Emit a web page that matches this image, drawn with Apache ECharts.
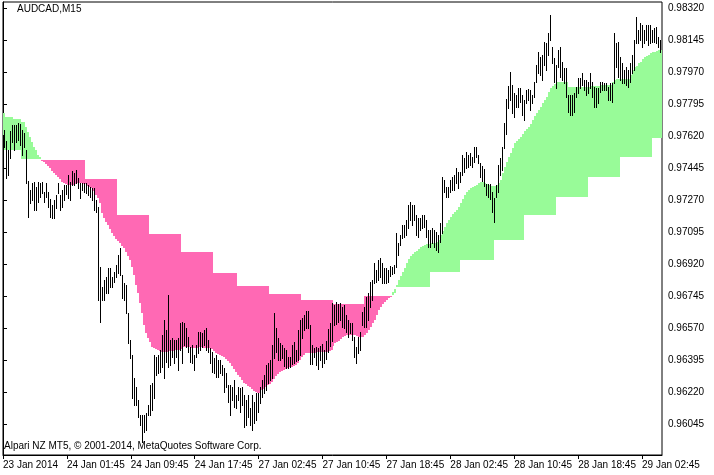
<!DOCTYPE html>
<html><head><meta charset="utf-8">
<script src="https://cdn.jsdelivr.net/npm/echarts@6/dist/echarts.min.js"></script>
<style>html,body{margin:0;padding:0;background:#fff}#c{width:714px;height:475px}</style>
</head><body><div id="c"></div>
<script>
const symbolTitle = 'AUDCAD,M15';
const copyright = 'Alpari NZ MT5, \u00a9 2001-2014, MetaQuotes Software Corp.';
const timeLabels = ['23 Jan 2014','24 Jan 01:45','24 Jan 09:45','24 Jan 17:45','27 Jan 02:45','27 Jan 10:45','27 Jan 18:45','28 Jan 02:45','28 Jan 10:45','28 Jan 18:45','29 Jan 02:45'];
const timeLabelBars = [0,32,64,96,128,160,192,224,256,288,320];
const priceTicks = [0.96045,0.96220,0.96395,0.96570,0.96745,0.96920,0.97095,0.97270,0.97445,0.97620,0.97795,0.97970,0.98145,0.98320];

const high = [
0.97627,0.97655,0.97594,0.97545,0.97649,0.97682,0.97682,0.97682,0.97693,0.97687,
0.97655,0.97638,0.97545,0.97375,0.97326,0.97365,0.97370,0.97343,0.97370,0.97365,
0.97370,0.97315,0.97365,0.97315,0.97277,0.97244,0.97272,0.97299,0.97365,0.97299,
0.97326,0.97354,0.97354,0.97408,0.97370,0.97430,0.97419,0.97436,0.97392,0.97365,
0.97365,0.97365,0.97365,0.97354,0.97343,0.97337,0.97337,0.97272,0.97233,0.96905,
0.96796,0.96834,0.96851,0.96900,0.96900,0.96851,0.96878,0.96916,0.96971,0.97009,
0.96862,0.96818,0.96807,0.96654,0.96506,0.96424,0.96298,0.96249,0.96178,0.96096,
0.96096,0.96096,0.96107,0.96151,0.96260,0.96271,0.96424,0.96413,0.96424,0.96451,
0.96533,0.96615,0.96561,0.96752,0.96506,0.96517,0.96506,0.96506,0.96517,0.96599,
0.96605,0.96599,0.96572,0.96523,0.96468,0.96479,0.96424,0.96479,0.96550,0.96550,
0.96544,0.96561,0.96572,0.96506,0.96462,0.96440,0.96408,0.96424,0.96397,0.96397,
0.96369,0.96353,0.96326,0.96260,0.96260,0.96249,0.96287,0.96205,0.96249,0.96244,
0.96249,0.96205,0.96178,0.96205,0.96134,0.96205,0.96167,0.96216,0.96216,0.96249,
0.96287,0.96315,0.96369,0.96380,0.96397,0.96479,0.96654,0.96572,0.96517,0.96490,
0.96479,0.96462,0.96451,0.96413,0.96413,0.96479,0.96495,0.96451,0.96561,0.96615,
0.96626,0.96643,0.96665,0.96665,0.96588,0.96479,0.96462,0.96468,0.96462,0.96473,
0.96484,0.96451,0.96501,0.96566,0.96599,0.96708,0.96698,0.96714,0.96703,0.96708,
0.96687,0.96698,0.96643,0.96615,0.96599,0.96599,0.96523,0.96468,0.96523,0.96550,
0.96659,0.96687,0.96741,0.96763,0.96823,0.96834,0.96927,0.96889,0.96944,0.96955,
0.96927,0.96900,0.96900,0.96889,0.96911,0.96905,0.96916,0.97091,0.97037,0.97080,
0.97135,0.97135,0.97162,0.97244,0.97261,0.97244,0.97244,0.97190,0.97173,0.97173,
0.97190,0.97190,0.97162,0.97108,0.97108,0.97119,0.97108,0.97097,0.97080,0.97146,
0.97397,0.97381,0.97343,0.97343,0.97381,0.97397,0.97408,0.97447,0.97425,0.97425,
0.97518,0.97501,0.97534,0.97518,0.97529,0.97507,0.97562,0.97562,0.97518,0.97474,
0.97458,0.97441,0.97359,0.97359,0.97359,0.97315,0.97283,0.97354,0.97463,0.97501,
0.97562,0.97693,0.97824,0.97895,0.97972,0.97901,0.97857,0.97846,0.97884,0.97884,
0.97846,0.97819,0.97873,0.97879,0.97873,0.97846,0.97917,0.98010,0.98081,0.98054,
0.98065,0.98136,0.98130,0.98185,0.98283,0.98108,0.98048,0.98010,0.98092,0.98108,
0.98026,0.97994,0.97994,0.97846,0.97846,0.97846,0.97857,0.97890,0.97939,0.97939,
0.97966,0.97928,0.97928,0.97917,0.97966,0.97917,0.97890,0.97884,0.97884,0.97917,
0.97917,0.97912,0.97912,0.97890,0.97912,0.97912,0.98185,0.98130,0.98136,0.98054,
0.98021,0.97983,0.97999,0.97983,0.98021,0.98065,0.98147,0.98272,0.98201,0.98240,
0.98229,0.98201,0.98229,0.98229,0.98229,0.98201,0.98212,0.98218,0.98163,0.98147
];
const low = [
0.97545,0.97562,0.97392,0.97408,0.97501,0.97589,0.97545,0.97589,0.97600,0.97573,
0.97518,0.97562,0.97365,0.97179,0.97255,0.97272,0.97217,0.97217,0.97261,0.97288,
0.97310,0.97261,0.97288,0.97233,0.97179,0.97173,0.97173,0.97228,0.97310,0.97217,
0.97233,0.97272,0.97305,0.97283,0.97272,0.97354,0.97354,0.97365,0.97337,0.97283,
0.97326,0.97315,0.97310,0.97299,0.97288,0.97272,0.97217,0.97206,0.96725,0.96605,
0.96725,0.96725,0.96763,0.96763,0.96796,0.96796,0.96823,0.96851,0.96873,0.96862,
0.96736,0.96725,0.96654,0.96490,0.96408,0.96189,0.96151,0.96151,0.96085,0.96041,
0.95948,0.96003,0.96014,0.96096,0.96096,0.96123,0.96189,0.96315,0.96326,0.96331,
0.96358,0.96298,0.96386,0.96358,0.96369,0.96413,0.96380,0.96413,0.96342,0.96451,
0.96380,0.96479,0.96468,0.96440,0.96386,0.96380,0.96342,0.96413,0.96435,0.96451,
0.96468,0.96479,0.96451,0.96440,0.96380,0.96331,0.96326,0.96304,0.96304,0.96326,
0.96315,0.96222,0.96249,0.96167,0.96096,0.96178,0.96140,0.96134,0.96178,0.96112,
0.96151,0.96030,0.96041,0.96085,0.96041,0.96014,0.96052,0.96069,0.96112,0.96162,
0.96194,0.96216,0.96233,0.96271,0.96287,0.96298,0.96408,0.96440,0.96397,0.96397,
0.96408,0.96364,0.96353,0.96353,0.96358,0.96375,0.96380,0.96391,0.96397,0.96424,
0.96517,0.96561,0.96572,0.96572,0.96375,0.96375,0.96413,0.96369,0.96348,0.96397,
0.96358,0.96380,0.96402,0.96440,0.96473,0.96501,0.96588,0.96594,0.96605,0.96615,
0.96577,0.96572,0.96550,0.96523,0.96544,0.96506,0.96413,0.96380,0.96435,0.96451,
0.96588,0.96577,0.96577,0.96615,0.96687,0.96725,0.96818,0.96823,0.96834,0.96851,
0.96818,0.96818,0.96818,0.96823,0.96856,0.96867,0.96873,0.96905,0.96971,0.97026,
0.97064,0.97069,0.97080,0.97119,0.97162,0.97135,0.97162,0.97080,0.97069,0.97108,
0.97119,0.97124,0.97069,0.97015,0.97015,0.97037,0.97015,0.96998,0.96987,0.97042,
0.97091,0.97315,0.97288,0.97288,0.97315,0.97326,0.97326,0.97365,0.97337,0.97370,
0.97408,0.97425,0.97447,0.97452,0.97463,0.97452,0.97480,0.97507,0.97474,0.97397,
0.97375,0.97348,0.97299,0.97288,0.97277,0.97206,0.97151,0.97288,0.97315,0.97408,
0.97436,0.97556,0.97633,0.97775,0.97819,0.97748,0.97726,0.97780,0.97780,0.97808,
0.97737,0.97709,0.97802,0.97819,0.97764,0.97802,0.97835,0.97917,0.97966,0.97955,
0.97928,0.98010,0.97983,0.98065,0.98147,0.98021,0.97917,0.97884,0.97999,0.97944,
0.97928,0.97912,0.97835,0.97753,0.97737,0.97737,0.97753,0.97835,0.97857,0.97884,
0.97901,0.97873,0.97846,0.97857,0.97884,0.97835,0.97780,0.97780,0.97802,0.97862,
0.97873,0.97873,0.97873,0.97819,0.97819,0.97808,0.97912,0.97999,0.97944,0.97928,
0.97912,0.97912,0.97901,0.97890,0.97917,0.97966,0.97983,0.98130,0.98130,0.98147,
0.98108,0.98130,0.98147,0.98119,0.98130,0.98136,0.98136,0.98130,0.98108,0.98081
];
const stepLine = [
0.97545,0.97545,0.97545,0.97545,0.97545,0.97545,0.97545,0.97545,0.97545,0.97496,
0.97496,0.97496,0.97496,0.97496,0.97496,0.97496,0.97496,0.97496,0.97496,0.97490,
0.97490,0.97490,0.97490,0.97490,0.97490,0.97490,0.97490,0.97490,0.97490,0.97490,
0.97490,0.97490,0.97490,0.97490,0.97490,0.97490,0.97490,0.97490,0.97490,0.97490,
0.97490,0.97386,0.97386,0.97386,0.97386,0.97386,0.97386,0.97386,0.97386,0.97386,
0.97386,0.97386,0.97386,0.97386,0.97386,0.97386,0.97386,0.97190,0.97190,0.97190,
0.97190,0.97190,0.97190,0.97190,0.97190,0.97190,0.97190,0.97190,0.97190,0.97190,
0.97190,0.97190,0.97190,0.97086,0.97086,0.97086,0.97086,0.97086,0.97086,0.97086,
0.97086,0.97086,0.97086,0.97086,0.97086,0.97086,0.97086,0.97086,0.97086,0.96987,
0.96987,0.96987,0.96987,0.96987,0.96987,0.96987,0.96987,0.96987,0.96987,0.96987,
0.96987,0.96987,0.96987,0.96987,0.96987,0.96873,0.96873,0.96873,0.96873,0.96873,
0.96873,0.96873,0.96873,0.96873,0.96873,0.96873,0.96873,0.96801,0.96801,0.96801,
0.96801,0.96801,0.96801,0.96801,0.96801,0.96801,0.96801,0.96801,0.96801,0.96801,
0.96801,0.96801,0.96801,0.96758,0.96758,0.96758,0.96758,0.96758,0.96758,0.96758,
0.96758,0.96758,0.96758,0.96758,0.96758,0.96758,0.96758,0.96758,0.96758,0.96725,
0.96725,0.96725,0.96725,0.96725,0.96725,0.96725,0.96725,0.96725,0.96725,0.96725,
0.96725,0.96725,0.96725,0.96725,0.96725,0.96703,0.96703,0.96703,0.96703,0.96703,
0.96703,0.96703,0.96703,0.96703,0.96703,0.96703,0.96703,0.96703,0.96703,0.96703,
0.96703,0.96747,0.96747,0.96747,0.96747,0.96747,0.96747,0.96747,0.96747,0.96747,
0.96747,0.96747,0.96747,0.96747,0.96747,0.96752,0.96763,0.96796,0.96796,0.96796,
0.96796,0.96796,0.96796,0.96796,0.96796,0.96796,0.96796,0.96796,0.96796,0.96796,
0.96796,0.96796,0.96796,0.96796,0.96878,0.96878,0.96878,0.96878,0.96878,0.96878,
0.96878,0.96878,0.96878,0.96878,0.96878,0.96878,0.96878,0.96878,0.96878,0.96944,
0.96944,0.96944,0.96944,0.96944,0.96944,0.96944,0.96944,0.96944,0.96944,0.96944,
0.96944,0.96944,0.96944,0.96944,0.96944,0.96944,0.97053,0.97053,0.97053,0.97053,
0.97053,0.97053,0.97053,0.97053,0.97053,0.97053,0.97053,0.97053,0.97053,0.97053,
0.97053,0.97190,0.97190,0.97190,0.97190,0.97190,0.97190,0.97190,0.97190,0.97190,
0.97190,0.97190,0.97190,0.97190,0.97190,0.97190,0.97190,0.97288,0.97288,0.97288,
0.97288,0.97288,0.97288,0.97288,0.97288,0.97288,0.97288,0.97288,0.97288,0.97288,
0.97288,0.97288,0.97288,0.97397,0.97397,0.97397,0.97397,0.97397,0.97397,0.97397,
0.97397,0.97397,0.97397,0.97397,0.97397,0.97397,0.97397,0.97397,0.97397,0.97507,
0.97507,0.97507,0.97507,0.97507,0.97507,0.97507,0.97507,0.97507,0.97507,0.97507,
0.97507,0.97507,0.97507,0.97507,0.97507,0.97611,0.97611,0.97611,0.97611,0.97611
];
const smoothLine = [
0.97748,0.97726,0.97726,0.97726,0.97726,0.97715,0.97715,0.97715,0.97715,0.97698,
0.97698,0.97671,0.97644,0.97616,0.97589,0.97562,0.97545,0.97518,0.97507,0.97485,
0.97480,0.97469,0.97458,0.97447,0.97430,0.97419,0.97408,0.97397,0.97386,0.97370,
0.97365,0.97359,0.97354,0.97354,0.97354,0.97354,0.97359,0.97365,0.97365,0.97365,
0.97359,0.97359,0.97348,0.97343,0.97337,0.97321,0.97299,0.97283,0.97255,0.97201,
0.97173,0.97151,0.97135,0.97113,0.97091,0.97075,0.97058,0.97048,0.97037,0.97020,
0.97009,0.96987,0.96965,0.96944,0.96905,0.96862,0.96807,0.96763,0.96708,0.96654,
0.96588,0.96544,0.96517,0.96495,0.96468,0.96462,0.96457,0.96451,0.96446,0.96440,
0.96440,0.96440,0.96440,0.96446,0.96446,0.96446,0.96451,0.96451,0.96451,0.96457,
0.96468,0.96468,0.96468,0.96468,0.96462,0.96462,0.96462,0.96462,0.96468,0.96468,
0.96462,0.96462,0.96462,0.96462,0.96457,0.96446,0.96435,0.96430,0.96424,0.96419,
0.96413,0.96402,0.96391,0.96380,0.96364,0.96348,0.96331,0.96315,0.96304,0.96287,
0.96271,0.96265,0.96255,0.96249,0.96238,0.96227,0.96222,0.96216,0.96216,0.96233,
0.96238,0.96249,0.96260,0.96265,0.96276,0.96293,0.96309,0.96320,0.96331,0.96337,
0.96342,0.96348,0.96353,0.96358,0.96358,0.96364,0.96369,0.96380,0.96397,0.96413,
0.96424,0.96435,0.96435,0.96435,0.96435,0.96435,0.96435,0.96440,0.96440,0.96440,
0.96440,0.96440,0.96440,0.96446,0.96451,0.96473,0.96490,0.96495,0.96501,0.96512,
0.96523,0.96528,0.96533,0.96533,0.96533,0.96533,0.96533,0.96528,0.96523,0.96523,
0.96523,0.96533,0.96544,0.96561,0.96577,0.96599,0.96615,0.96643,0.96670,0.96687,
0.96703,0.96714,0.96725,0.96736,0.96741,0.96769,0.96785,0.96807,0.96834,0.96856,
0.96878,0.96900,0.96927,0.96949,0.96965,0.96976,0.96987,0.96993,0.97004,0.97015,
0.97020,0.97026,0.97031,0.97031,0.97037,0.97037,0.97037,0.97042,0.97053,0.97080,
0.97102,0.97124,0.97146,0.97162,0.97179,0.97195,0.97206,0.97217,0.97233,0.97255,
0.97277,0.97299,0.97315,0.97326,0.97337,0.97343,0.97348,0.97354,0.97365,0.97370,
0.97370,0.97365,0.97359,0.97354,0.97348,0.97348,0.97348,0.97354,0.97365,0.97381,
0.97419,0.97452,0.97480,0.97507,0.97529,0.97556,0.97583,0.97594,0.97605,0.97616,
0.97633,0.97649,0.97660,0.97671,0.97687,0.97709,0.97731,0.97748,0.97764,0.97780,
0.97802,0.97819,0.97835,0.97862,0.97884,0.97895,0.97906,0.97917,0.97917,0.97917,
0.97917,0.97917,0.97917,0.97890,0.97890,0.97890,0.97890,0.97890,0.97890,0.97890,
0.97890,0.97890,0.97890,0.97890,0.97895,0.97895,0.97895,0.97895,0.97895,0.97901,
0.97901,0.97901,0.97901,0.97901,0.97901,0.97917,0.97928,0.97933,0.97933,0.97933,
0.97933,0.97933,0.97933,0.97933,0.97955,0.97983,0.97999,0.98005,0.98021,0.98026,
0.98043,0.98054,0.98059,0.98065,0.98076,0.98081,0.98081,0.98087,0.98092,0.98092
];

const PINK = '#FF69B4';
const GREEN = '#98FB98';
const FONT = '"Liberation Sans", Arial, sans-serif';

const chart = echarts.init(document.getElementById('c'), null, {renderer: 'canvas'});
const barData = high.map((h, i) => [i, h, low[i]]);
const cloudData = stepLine.map((a, i) => [i, a, smoothLine[i]]);

chart.setOption({
  animation: false,
  backgroundColor: '#fff',
  title: {
    text: symbolTitle, left: 17, top: 4, padding: 0,
    textStyle: {fontSize: 10, fontWeight: 'normal', color: '#000', fontFamily: FONT}
  },
  graphic: [{
    type: 'text', left: 4, top: 441, silent: true,
    style: {text: copyright, fill: '#000', font: '10px ' + FONT}
  }],
  grid: {left: 2, top: 2, width: 660, height: 453, show: true, borderColor: '#000', borderWidth: 1, backgroundColor: '#fff'},
  xAxis: {
    type: 'value', min: 0, max: 330,
    axisLine: {show: true, lineStyle: {color: '#000', width: 1}},
    axisTick: {show: true, customValues: timeLabelBars, length: 4, lineStyle: {color: '#000'}},
    axisLabel: {
      customValues: timeLabelBars, align: 'left', margin: 5, color: '#000', fontSize: 10, fontFamily: FONT,
      formatter: v => timeLabels[timeLabelBars.indexOf(v)] || ''
    },
    splitLine: {show: false}
  },
  yAxis: {
    type: 'value', position: 'right', min: 0.95877, max: 0.98354,
    axisLine: {show: true, lineStyle: {color: '#000', width: 1}},
    axisTick: {show: true, customValues: priceTicks, length: 4, lineStyle: {color: '#000'}},
    axisLabel: {
      customValues: priceTicks, margin: 6, color: '#000', fontSize: 10, fontFamily: FONT,
      formatter: v => v.toFixed(5)
    },
    splitLine: {show: false}
  },
  series: [
    {
      type: 'custom', name: 'cloud', data: cloudData, clip: true, silent: true,
      renderItem: (params, api) => {
        const i = api.value(0), a = api.value(1), b = api.value(2);
        const p1 = api.coord([i, a]);
        const p2 = api.coord([i + 1, b]);
        const x = Math.round(p1[0]);
        const w = Math.round(p2[0]) - x;
        const y1 = Math.round(Math.min(p1[1], p2[1]));
        const y2 = Math.round(Math.max(p1[1], p2[1]));
        return {type: 'rect', shape: {x: x, y: y1, width: w, height: Math.max(1, y2 - y1)},
                style: {fill: a > b ? PINK : GREEN}};
      }
    },
    {
      type: 'custom', name: 'bars', data: barData, clip: true, silent: true, z: 3,
      renderItem: (params, api) => {
        const i = api.value(0);
        const ph = api.coord([i, api.value(1)]);
        const pl = api.coord([i, api.value(2)]);
        const x = Math.floor(ph[0]) + 0.5;
        return {type: 'line', shape: {x1: x, y1: Math.round(ph[1]), x2: x, y2: Math.round(pl[1]) + 1},
                style: {stroke: '#000', lineWidth: 1}};
      }
    }
  ]
});
</script></body></html>
